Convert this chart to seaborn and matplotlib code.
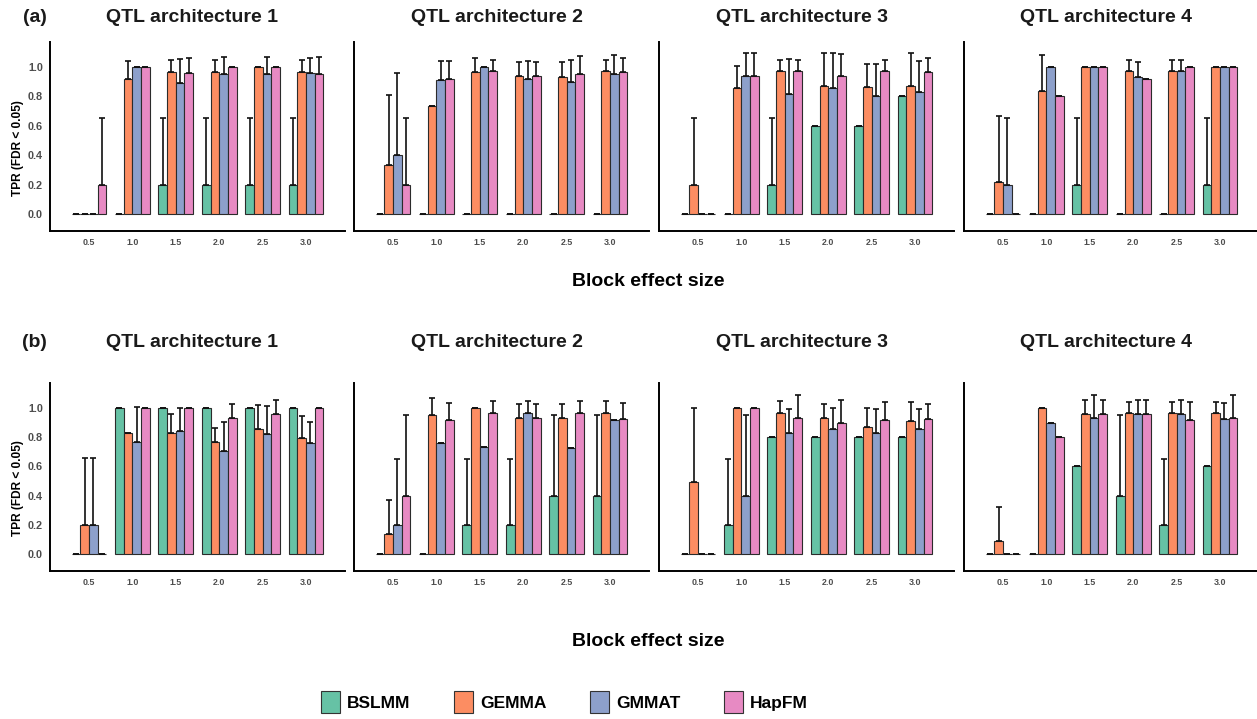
import numpy as np
import pandas as pd
import matplotlib
matplotlib.use("Agg")
import matplotlib.pyplot as plt
from matplotlib.patches import Patch
import seaborn as sns

# ---- data -------------------------------------------------------------
effect_sizes = ["0.5", "1.0", "1.5", "2.0", "2.5", "3.0"]
methods = ["BSLMM", "GEMMA", "GMMAT", "HapFM"]
colors = ["#66c2a5", "#fc8d62", "#8da0cb", "#e78ac3"]
arch_titles = ["QTL architecture 1", "QTL architecture 2",
               "QTL architecture 3", "QTL architecture 4"]
row_tags = ["(a)", "(b)"]

# (a) mean TPR and upper end of the error bar
tpr_a1 = dict(BSLMM=[0, 0, 0.2, 0.2, 0.2, 0.2],
              GEMMA=[0, 0.92, 0.967, 0.967, 1.0, 0.967],
              GMMAT=[0, 1.0, 0.887, 0.952, 0.952, 0.96],
              HapFM=[0.2, 1.0, 0.96, 1.0, 1.0, 0.952])
upr_a1 = dict(BSLMM=[0, 0, 0.65, 0.65, 0.65, 0.65],
              GEMMA=[0, 1.04, 1.045, 1.045, 1.0, 1.045],
              GMMAT=[0, 1.0, 1.05, 1.068, 1.068, 1.057],
              HapFM=[0.65, 1.0, 1.057, 1.0, 1.0, 1.068])

tpr_a2 = dict(BSLMM=[0, 0, 0, 0, 0, 0],
              GEMMA=[0.333, 0.733, 0.961, 0.934, 0.928, 0.968],
              GMMAT=[0.4, 0.912, 1.0, 0.918, 0.894, 0.948],
              HapFM=[0.2, 0.92, 0.968, 0.934, 0.952, 0.961])
upr_a2 = dict(BSLMM=[0, 0, 0, 0, 0, 0],
              GEMMA=[0.81, 0.733, 1.057, 1.03, 1.034, 1.048],
              GMMAT=[0.955, 1.04, 1.0, 1.04, 1.048, 1.08],
              HapFM=[0.654, 1.04, 1.048, 1.03, 1.07, 1.057])

tpr_a3 = dict(BSLMM=[0, 0, 0.2, 0.6, 0.6, 0.8],
              GEMMA=[0.2, 0.853, 0.968, 0.869, 0.86, 0.867],
              GMMAT=[0, 0.934, 0.817, 0.853, 0.803, 0.828],
              HapFM=[0, 0.934, 0.968, 0.934, 0.968, 0.961])
upr_a3 = dict(BSLMM=[0, 0, 0.654, 0.6, 0.6, 0.8],
              GEMMA=[0.654, 1.007, 1.048, 1.093, 1.02, 1.093],
              GMMAT=[0, 1.09, 1.05, 1.095, 1.02, 1.038],
              HapFM=[0, 1.09, 1.048, 1.088, 1.048, 1.057])

tpr_a4 = dict(BSLMM=[0, 0, 0.2, 0, 0, 0.2],
              GEMMA=[0.215, 0.835, 1.0, 0.968, 0.968, 1.0],
              GMMAT=[0.2, 1.0, 1.0, 0.928, 0.968, 1.0],
              HapFM=[0, 0.8, 1.0, 0.92, 1.0, 1.0])
upr_a4 = dict(BSLMM=[0, 0, 0.654, 0, 0, 0.654],
              GEMMA=[0.663, 1.077, 1.0, 1.048, 1.048, 1.0],
              GMMAT=[0.654, 1.0, 1.0, 1.034, 1.048, 1.0],
              HapFM=[0, 0.8, 1.0, 0.92, 1.0, 1.0])

# (b)
tpr_b1 = dict(BSLMM=[0, 1.0, 1.0, 1.0, 1.0, 1.0],
              GEMMA=[0.2, 0.826, 0.83, 0.765, 0.855, 0.796],
              GMMAT=[0.2, 0.767, 0.839, 0.701, 0.819, 0.756],
              HapFM=[0, 1.0, 1.0, 0.932, 0.957, 1.0])
upr_b1 = dict(BSLMM=[0, 1.0, 1.0, 1.0, 1.0, 1.0],
              GEMMA=[0.654, 0.826, 0.955, 0.864, 1.016, 0.943],
              GMMAT=[0.654, 1.005, 0.995, 0.905, 1.011, 0.905],
              HapFM=[0, 1.0, 1.0, 1.027, 1.052, 1.0])

tpr_b2 = dict(BSLMM=[0, 0, 0.2, 0.2, 0.4, 0.4],
              GEMMA=[0.138, 0.948, 1.0, 0.93, 0.93, 0.964],
              GMMAT=[0.2, 0.758, 0.731, 0.964, 0.722, 0.916],
              HapFM=[0.4, 0.916, 0.964, 0.93, 0.964, 0.921])
upr_b2 = dict(BSLMM=[0, 0, 0.647, 0.647, 0.95, 0.95],
              GEMMA=[0.367, 1.063, 1.0, 1.025, 1.025, 1.043],
              GMMAT=[0.647, 0.758, 0.731, 1.043, 0.722, 0.916],
              HapFM=[0.95, 1.03, 1.043, 1.025, 1.043, 1.03])

tpr_b3 = dict(BSLMM=[0, 0.2, 0.8, 0.8, 0.8, 0.8],
              GEMMA=[0.493, 1.0, 0.964, 0.93, 0.871, 0.907],
              GMMAT=[0, 0.4, 0.83, 0.851, 0.83, 0.857],
              HapFM=[0, 1.0, 0.93, 0.896, 0.914, 0.923])
upr_b3 = dict(BSLMM=[0, 0.647, 0.8, 0.8, 0.8, 0.8],
              GEMMA=[1.0, 1.0, 1.043, 1.025, 1.0, 1.04],
              GMMAT=[0, 0.95, 0.991, 1.0, 0.993, 0.993],
              HapFM=[0, 1.0, 1.084, 1.052, 1.036, 1.027])

tpr_b4 = dict(BSLMM=[0, 0, 0.6, 0.4, 0.2, 0.6],
              GEMMA=[0.093, 1.0, 0.957, 0.964, 0.964, 0.964],
              GMMAT=[0, 0.896, 0.93, 0.957, 0.957, 0.923],
              HapFM=[0, 0.8, 0.957, 0.957, 0.914, 0.93])
upr_b4 = dict(BSLMM=[0, 0, 0.6, 0.95, 0.647, 0.6],
              GEMMA=[0.321, 1.0, 1.05, 1.04, 1.04, 1.04],
              GMMAT=[0, 0.896, 1.084, 1.05, 1.05, 1.03],
              HapFM=[0, 0.8, 1.05, 1.05, 1.036, 1.084])

panels = [[(tpr_a1, upr_a1), (tpr_a2, upr_a2), (tpr_a3, upr_a3), (tpr_a4, upr_a4)],
          [(tpr_b1, upr_b1), (tpr_b2, upr_b2), (tpr_b3, upr_b3), (tpr_b4, upr_b4)]]

# ---- style ------------------------------------------------------------
sns.set_theme(style="white")
plt.rcParams["font.family"] = ["Liberation Sans", "DejaVu Sans"]
plt.rcParams["font.weight"] = "bold"
plt.rcParams["text.color"] = "black"

W, H = 1257, 719
fig = plt.figure(figsize=(W / 100, H / 100), dpi=100)

lefts = [50, 354, 659, 964]
width_px = 295
row_spans = [(42, 230.7), (383, 570.7)]  # top / bottom in pixels
title_y = [18, 342]
xlabel_y = [282, 641]
ylabel_y = [148, 488]

def long_frame(tpr):
    rows = []
    for m in methods:
        for s, v in zip(effect_sizes, tpr[m]):
            rows.append({"size": s, "method": m, "tpr": v})
    return pd.DataFrame(rows)

for r in range(2):
    top, bot = row_spans[r]
    for c in range(4):
        tpr, upr = panels[r][c]
        ax = fig.add_axes([lefts[c] / W, 1 - bot / H, width_px / W, (bot - top) / H])
        df = long_frame(tpr)
        sns.barplot(data=df, x="size", y="tpr", hue="method",
                    order=effect_sizes, hue_order=methods, palette=colors,
                    saturation=1, errorbar=None, width=0.8,
                    edgecolor="#2b2b2b", linewidth=0.8, legend=False, ax=ax)
        # upper-only error bars anchored on the drawn bars
        for cont, m in zip(ax.containers, methods):
            xs = np.array([p.get_x() + p.get_width() / 2 for p in cont.patches])
            ys = np.array([p.get_height() for p in cont.patches])
            up = np.array(upr[m]) - ys
            ax.errorbar(xs, ys, yerr=[np.zeros_like(ys), up], fmt="none",
                        ecolor="#111111", elinewidth=1.2, capsize=2.2,
                        capthick=1.2, zorder=3)
        ax.set_xlim(-0.9, 5.9)
        ax.set_ylim(-0.113, 1.168)
        ax.set_yticks([0, 0.2, 0.4, 0.6, 0.8, 1.0])
        ax.set_xlabel("")
        ax.set_ylabel("")
        sns.despine(ax=ax)
        for sp in ("left", "bottom"):
            ax.spines[sp].set_linewidth(1.4)
            ax.spines[sp].set_color("black")
        ax.tick_params(axis="y", length=2, width=0.8, color="#333333",
                       labelsize=7.8, labelcolor="#4d4d4d", pad=3)
        ax.tick_params(axis="x", length=(0 if r == 0 else 2.5), width=0.8,
                       color="#333333", labelsize=6.4, labelcolor="#4d4d4d",
                       pad=5 if r == 0 else 3)
        for lab in ax.get_xticklabels() + ax.get_yticklabels():
            lab.set_fontweight("bold")
        if c > 0:
            ax.set_yticklabels([])
        fig.text((lefts[c] + width_px / 2 - 5) / W, 1 - title_y[r] / H,
                 arch_titles[c], ha="center", va="center",
                 fontsize=14, fontweight="bold", color="#1a1a1a")
    fig.text(34.5 / W, 1 - title_y[r] / H, row_tags[r], ha="center", va="center",
             fontsize=14, fontweight="bold", color="#1a1a1a")
    fig.text(18 / W, 1 - ylabel_y[r] / H, "TPR (FDR < 0.05)", rotation=90,
             ha="center", va="center", fontsize=8.6, fontweight="bold",
             color="black")
    fig.text(648 / W, 1 - xlabel_y[r] / H, "Block effect size", ha="center",
             va="center", fontsize=14, fontweight="bold", color="black")

handles = [Patch(facecolor=col, edgecolor="#333333", linewidth=0.8, label=m)
           for m, col in zip(methods, colors)]
leg = fig.legend(handles=handles, loc="center",
                 bbox_to_anchor=(564.5 / W, 1 - 702 / H),
                 ncol=4, frameon=False, prop={"weight": "bold", "size": 12.5},
                 handlelength=1.1, handleheight=1.5, handletextpad=0.4,
                 columnspacing=2.5)
for t in leg.get_texts():
    t.set_color("black")

fig.savefig("out.png", dpi=100)
